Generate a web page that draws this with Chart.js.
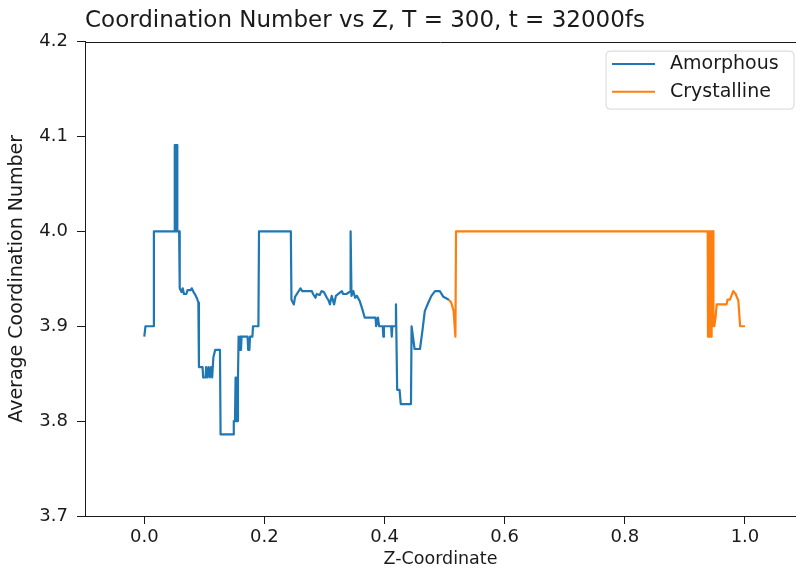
<!DOCTYPE html>
<html>
<head>
<meta charset="utf-8">
<title>Coordination Number vs Z</title>
<script src="https://cdn.jsdelivr.net/npm/chart.js@4.4.0/dist/chart.umd.min.js"></script>
<style>
  html, body { margin: 0; padding: 0; background: #fff; }
  #wrap { width: 796px; height: 568px; }
</style>
</head>
<body>
<div id="wrap"><canvas id="chart"></canvas></div>
<script>
'use strict';

// values
const amorphousZ = [
  0.000, 0.002, 0.015, 0.016, 0.050, 0.0505, 0.051, 0.0515, 0.052, 0.0525, 0.053, 0.0535, 0.054, 0.0545, 0.055, 0.058,
  0.059, 0.062, 0.064, 0.066, 0.070, 0.072, 0.077, 0.079, 0.082, 0.085, 0.088, 0.090,
  0.091, 0.097, 0.098, 0.102, 0.103, 0.105, 0.107, 0.109, 0.111, 0.113, 0.115, 0.118, 0.126,
  0.127, 0.148, 0.149, 0.151, 0.152, 0.153, 0.154, 0.155, 0.156, 0.157, 0.159, 0.160, 0.161, 0.162,
  0.172, 0.173, 0.175, 0.176, 0.180, 0.181, 0.190, 0.191, 0.244,
  0.245, 0.249, 0.251, 0.254, 0.260, 0.263, 0.279, 0.281, 0.285, 0.287, 0.292, 0.295, 0.299,
  0.304, 0.307, 0.309, 0.312, 0.316, 0.319, 0.323, 0.329, 0.331, 0.337, 0.341, 0.343, 0.3435,
  0.345, 0.348, 0.351, 0.354, 0.359, 0.363, 0.367, 0.385, 0.386, 0.389, 0.391, 0.397, 0.398,
  0.399, 0.411, 0.412, 0.413, 0.418, 0.419, 0.421, 0.425, 0.427, 0.444, 0.445, 0.450, 0.459,
  0.463, 0.467, 0.473, 0.478, 0.484, 0.492, 0.498, 0.507
];
const amorphousCN = [
  3.889, 3.900, 3.900, 4.000, 4.000, 4.091, 4.000, 4.091, 4.000, 4.091, 4.000, 4.091, 4.000, 4.091, 4.000, 4.000,
  3.940, 3.936, 3.940, 3.934, 3.934, 3.938, 3.938, 3.940, 3.936, 3.933, 3.929, 3.925,
  3.857, 3.857, 3.846, 3.846, 3.857, 3.846, 3.857, 3.846, 3.857, 3.846, 3.867, 3.875, 3.875,
  3.786, 3.786, 3.800, 3.800, 3.846, 3.800, 3.846, 3.800, 3.846, 3.889, 3.875, 3.889, 3.875, 3.889,
  3.889, 3.875, 3.875, 3.889, 3.889, 3.900, 3.900, 4.000, 4.000,
  3.928, 3.923, 3.931, 3.934, 3.940, 3.937, 3.937, 3.934, 3.930, 3.934, 3.933, 3.937, 3.936,
  3.930, 3.927, 3.923, 3.932, 3.923, 3.932, 3.934, 3.937, 3.934, 3.934, 3.936, 3.936, 4.000,
  3.932, 3.937, 3.930, 3.932, 3.926, 3.918, 3.909, 3.909, 3.900, 3.909, 3.900, 3.900, 3.889,
  3.900, 3.900, 3.889, 3.900, 3.900, 3.923, 3.833, 3.833, 3.818, 3.818, 3.900, 3.876, 3.876,
  3.895, 3.916, 3.925, 3.932, 3.937, 3.937, 3.931, 3.928
];

const crystallineZ = [
  0.507, 0.511, 0.515, 0.518, 0.519, 0.938,
  0.9385, 0.939, 0.9395, 0.940, 0.9405, 0.941, 0.9415, 0.942, 0.9425, 0.943, 0.9435, 0.944,
  0.9445, 0.945, 0.9455, 0.946, 0.9465, 0.947, 0.9475,
  0.949, 0.951, 0.953, 0.9695, 0.971, 0.975, 0.9805, 0.9845, 0.989, 0.992, 1.000
];
const crystallineCN = [
  3.928, 3.925, 3.916, 3.889, 4.000, 4.000,
  3.889, 4.000, 3.900, 4.000, 3.889, 4.000, 3.909, 4.000, 3.900, 4.000, 3.889, 4.000,
  3.900, 4.000, 3.909, 4.000, 3.900, 4.000, 3.900,
  3.900, 3.909, 3.923, 3.923, 3.928, 3.928, 3.937, 3.934, 3.927, 3.900, 3.900
];

const seriesLabels = ['Amorphous', 'Crystalline'];
const seriesColors = ['#1f77b4', '#ff7f0e'];
const xTicks = [0.0, 0.2, 0.4, 0.6, 0.8, 1.0];
const yTicks = [3.7, 3.8, 3.9, 4.0, 4.1, 4.2];

const FONT = "'DejaVu Sans', sans-serif";
const INK = '#1a1a1a';

const toPoints = (xs, ys) => xs.map((x, i) => ({x: x, y: ys[i]}));

/**
 * Draws the top spine and a matplotlib-like legend box in the upper right corner.
 */
const frameAndLegend = {
  id: 'frameAndLegend',
  afterDraw(chart) {
    const {ctx, chartArea: area} = chart;
    ctx.save();

    ctx.strokeStyle = INK;
    ctx.lineWidth = 1;
    ctx.beginPath();
    ctx.moveTo(area.left, Math.round(area.top) + 0.5);
    ctx.lineTo(area.right, Math.round(area.top) + 0.5);
    ctx.stroke();

    const boxW = 188, boxH = 58;
    const bx = area.right - 2 - boxW;
    const by = area.top + 9.5;
    ctx.beginPath();
    ctx.roundRect(bx, by, boxW, boxH, 4);
    ctx.fillStyle = 'rgba(255,255,255,0.8)';
    ctx.fill();
    ctx.strokeStyle = '#d6d6d6';
    ctx.stroke();

    ctx.font = '19px ' + FONT;
    ctx.textBaseline = 'middle';
    ctx.textAlign = 'left';
    chart.data.datasets.forEach((ds, i) => {
      const y = by + 13 + i * 27.7;
      ctx.strokeStyle = ds.borderColor;
      ctx.lineWidth = 2;
      ctx.beginPath();
      ctx.moveTo(bx + 6, y);
      ctx.lineTo(bx + 49, y);
      ctx.stroke();
      ctx.fillStyle = INK;
      ctx.fillText(ds.label, bx + 64, y);
    });

    ctx.restore();
  }
};

const datasets = [
  toPoints(amorphousZ, amorphousCN),
  toPoints(crystallineZ, crystallineCN)
].map((points, i) => ({
  label: seriesLabels[i],
  data: points,
  borderColor: seriesColors[i],
  backgroundColor: seriesColors[i],
  borderWidth: 2.2,
  borderJoinStyle: 'round',
  showLine: true,
  pointRadius: 0,
  tension: 0,
  fill: false
}));

new Chart(document.getElementById('chart'), {
  type: 'scatter',
  data: {datasets: datasets},
  plugins: [frameAndLegend],
  options: {
    responsive: true,
    maintainAspectRatio: false,
    animation: false,
    layout: {padding: 0},
    plugins: {
      legend: {display: false},
      tooltip: {enabled: false},
      title: {
        display: true,
        text: 'Coordination Number vs Z, T = 300, t = 32000fs',
        align: 'start',
        fullSize: false,
        color: INK,
        font: {family: FONT, size: 23, weight: 'normal', lineHeight: 1.2},
        padding: {top: 7, bottom: 7}
      }
    },
    scales: {
      x: {
        type: 'linear',
        bounds: 'data',
        min: -0.0987,
        max: 1.085,
        afterFit: scale => { scale.height = 52; },
        afterBuildTicks: scale => { scale.ticks = xTicks.map(v => ({value: v})); },
        border: {display: true, color: INK, width: 1},
        grid: {display: true, drawOnChartArea: false, drawTicks: true, tickLength: 8, tickColor: INK, color: INK},
        ticks: {
          color: INK,
          padding: 3,
          maxRotation: 0,
          font: {family: FONT, size: 18},
          callback: v => Number(v).toFixed(1)
        },
        title: {
          display: true,
          text: 'Z-Coordinate',
          color: INK,
          font: {family: FONT, size: 17.5, lineHeight: 1},
          padding: {top: 0, bottom: 0}
        }
      },
      y: {
        type: 'linear',
        bounds: 'data',
        min: 3.7,
        max: 4.2,
        afterFit: scale => { scale.width = 85; },
        afterBuildTicks: scale => { scale.ticks = yTicks.map(v => ({value: v})); },
        border: {display: true, color: INK, width: 1},
        grid: {display: true, drawOnChartArea: false, drawTicks: true, tickLength: 8, tickColor: INK, color: INK},
        ticks: {
          color: INK,
          padding: 9,
          font: {family: FONT, size: 18},
          callback: v => Number(v).toFixed(1)
        },
        title: {
          display: true,
          text: 'Average Coordination Number',
          color: INK,
          font: {family: FONT, size: 19},
          padding: {top: 6, bottom: 0}
        }
      }
    }
  }
});
</script>
</body>
</html>
